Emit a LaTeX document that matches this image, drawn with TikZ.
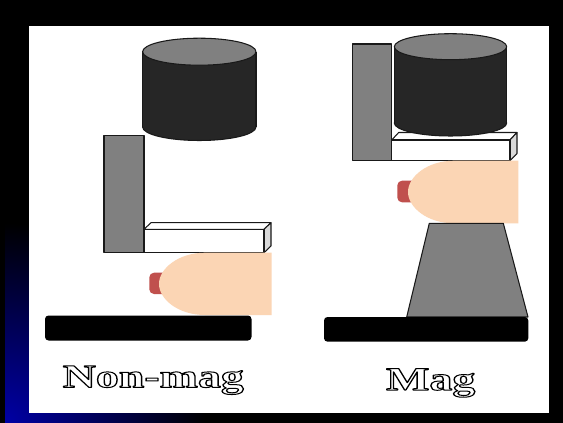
\documentclass[tikz,border=0pt]{standalone}
\usepackage{fontspec}
\setmainfont{Liberation Serif}
\definecolor{piel}{RGB}{251,213,180}
\definecolor{rojizo}{RGB}{192,80,77}
\definecolor{fondoazul}{RGB}{0,0,165}
% letras blancas con contorno negro (modo de texto 2 de PDF)
\newcommand{\hueca}[1]{\special{pdf:literal direct 2 Tr 0.85 w 1 j 0 G}#1\special{pdf:literal direct 0 Tr}}

\begin{document}
\begin{tikzpicture}[x=0.03cm, y=-0.03cm,
    pieza/.style={draw=black!90, line width=0.9pt, line join=round},
    columna/.style={pieza, fill=gray},
    cuerpo/.style={fill=black!85},
    tapa/.style={pieza, fill=gray},
    placa/.style={pieza, fill=white},
    lado/.style={pieza, fill=black!15},
    mama/.style={fill=piel},
    areola/.style={fill=rojizo, rounded corners=4},
    soporte/.style={fill=black, rounded corners=3},
    rotulo/.style={font=\fontsize{28}{30}\selectfont\bfseries, text=white, xscale=1.4, inner sep=0pt}
]
    \useasboundingbox (0,0) rectangle (563,423);
    \fill[black] (0,0) rectangle (563,423);
    \begin{scope}
        \clip (0,0) rectangle (563,423);
        \shade[inner color=fondoazul, outer color=black] (5,423) circle (200);
    \end{scope}
    \fill[black] (0,0) rectangle (5,423);
    \fill[white] (29,26) rectangle (548.5,413.3);

    % Sin magnificacion: mama apoyada sobre el soporte
    \draw[columna] (104,135.3) rectangle (144,252.7);
    \draw[placa] (144,229.3) -- (151,222.7) -- (271,222.7) -- (264,229.3) -- cycle;
    \draw[lado] (264,229.3) -- (271,222.7) -- (271,246) -- (264,252.7) -- cycle;
    \draw[placa] (144,229.3) rectangle (264,252.7);
    \draw[pieza, cuerpo] (199.3,127) ellipse (56.7 and 13.5);
    \fill[cuerpo] (142.6,51.7) rectangle (256,127);
    \draw[pieza] (142.6,51.7) -- (142.6,127) (256,51.7) -- (256,127);
    \draw[tapa] (199.3,51.7) ellipse (56.7 and 13.5);
    \fill[areola] (149.3,272.7) rectangle (172,294);
    \fill[mama] (271.7,252.7) -- (205,252.7) .. controls (178,252.7) and (159,269) .. (159,283.8) .. controls (159,299) and (178,315) .. (205,315) -- (271.7,315) -- cycle;
    \fill[soporte] (45,315.5) rectangle (251.5,340.5);
    \node[rotulo, anchor=base] (nonmag) at (153.3,387.3) {\hueca{Non-mag}};

    % Con magnificacion: mama elevada sobre el cono
    \draw[columna] (352.7,44) rectangle (391.7,160.7);
    \draw[placa] (391.7,140) -- (398.7,132.5) -- (517,132.5) -- (510,140) -- cycle;
    \draw[lado] (510,140) -- (517,132.5) -- (517,153.5) -- (510,160.7) -- cycle;
    \draw[placa] (391.7,140) rectangle (510,160.7);
    \draw[pieza, cuerpo] (450.5,123) ellipse (56.2 and 13);
    \fill[cuerpo] (394.3,46.7) rectangle (506.7,123);
    \draw[pieza] (394.3,46.7) -- (394.3,123) (506.7,46.7) -- (506.7,123);
    \draw[tapa] (450.5,46.7) ellipse (56.2 and 13);
    \fill[areola] (397.3,180.7) rectangle (420,202.3);
    \fill[mama] (518.3,160.7) -- (454,160.7) .. controls (427,160.7) and (408,177) .. (408,192) .. controls (408,207) and (427,223.3) .. (454,223.3) -- (518.3,223.3) -- cycle;
    \draw[columna] (429.3,223.3) -- (503.3,223.3) -- (528,317) -- (406.7,317) -- cycle;
    \fill[soporte] (324,317) rectangle (528.3,341.7);
    \node[rotulo, anchor=base] (mag) at (430.7,390) {\hueca{Mag}};
\end{tikzpicture}
\end{document}
